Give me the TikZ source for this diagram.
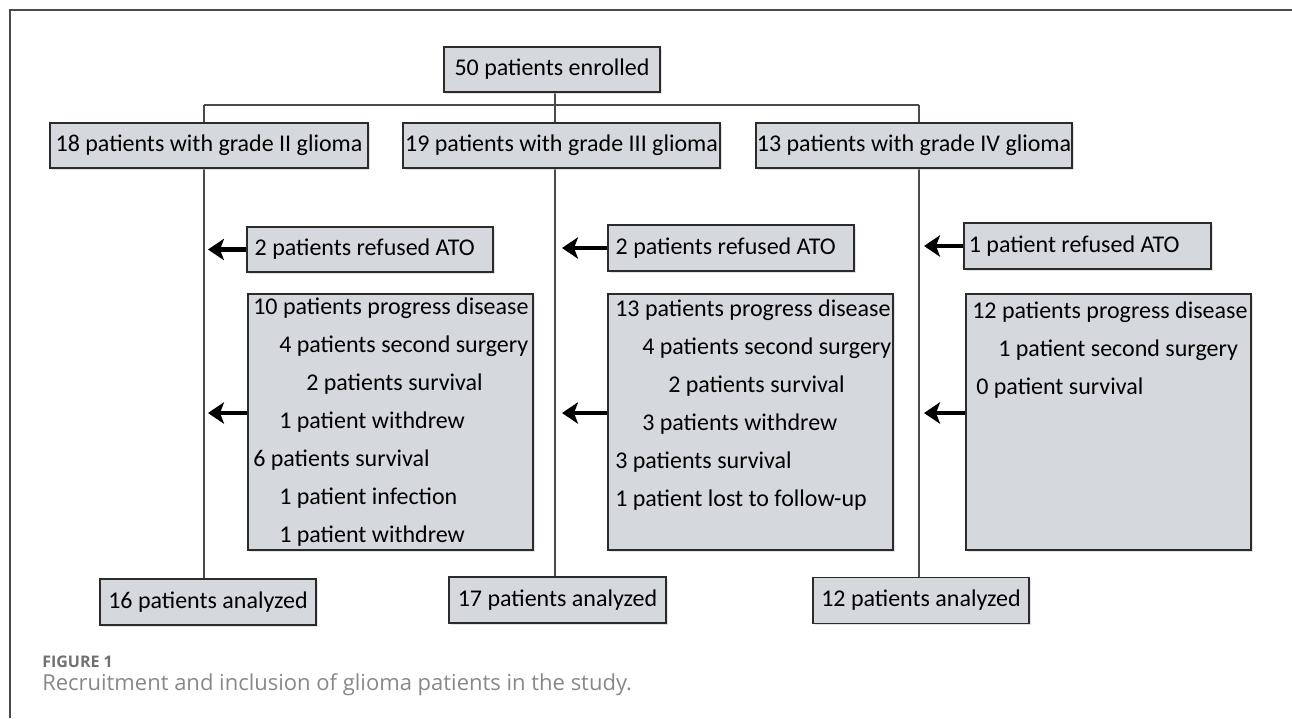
\documentclass[tikz,border=0pt]{standalone}
\usepackage{fontspec}
\setmainfont{Carlito}
\newfontfamily\capfont{Open Sans}
\usetikzlibrary{arrows.meta,shadows}
\definecolor{boxfill}{HTML}{D5D8DC}
\definecolor{boxline}{HTML}{2B2B2B}
\definecolor{connc}{HTML}{4A4A4A}
\definecolor{capgray}{HTML}{888888}
\definecolor{figgray}{HTML}{707070}
\definecolor{shadowc}{HTML}{C8C8C8}
\pgfdeclarelayer{bg}
\pgfsetlayers{bg,main}
\begin{document}
\begin{tikzpicture}[x=0.75pt,y=-0.75pt,
  box/.style={draw=boxline, line width=1.1pt, fill=boxfill, inner sep=0pt,
    font=\fontsize{18}{21}\selectfont, text=black,
    drop shadow={shadow xshift=1.2pt, shadow yshift=-1.2pt, fill=shadowc}},
  bx/.style 2 args={minimum width=#1*0.75pt, minimum height=#2*0.75pt},
  conn/.style={draw=connc, line width=0.8pt},
  outarrow/.style={draw=black, line width=3.6pt, -{Stealth[length=12pt,width=16pt,inset=3pt]}},
  txt/.style={anchor=base west, inner sep=0pt, font=\fontsize{18}{21}\selectfont, text=black}]
\useasboundingbox (0,0) rectangle (1292,718);
\draw[connc, line width=0.9pt] (10,718) -- (10,10) -- (1292,10);

% top and grade boxes
\node[box, bx={216}{45}] (top) at (552,69.5) {50 patients enrolled};
\node[box, bx={318}{45}] (g2) at (209,145.5) {18 patients with grade II glioma};
\node[box, bx={317}{45}] (g3) at (561.5,145.5) {19 patients with grade III glioma};
\node[box, bx={316}{45}] (g4) at (914,145.5) {13 patients with grade IV glioma};

% refused boxes
\node[box, bx={246}{45}] (r2) at (370,249.5) {\hspace*{-8pt}2 patients refused ATO};
\node[box, bx={246}{46}] (r3) at (731,248) {\hspace*{-8pt}2 patients refused ATO};
\node[box, bx={247}{46}] (r4) at (1087.5,246) {\hspace*{-20pt}1 patient refused ATO};

% big boxes
\node[box, bx={285}{256}] (b2) at (390.5,422) {};
\node[box, bx={285}{256}] (b3) at (750.5,422) {};
\node[box, bx={285}{256}] (b4) at (1108.5,422) {};

% analyzed boxes
\node[box, bx={216}{46}] (a2) at (208,602) {16 patients analyzed};
\node[box, bx={217}{46}] (a3) at (557.5,600) {17 patients analyzed};
\node[box, bx={216}{46}] (a4) at (921,600.5) {12 patients analyzed};

% text lines inside big boxes
\foreach \x/\y/\t [count=\i] in {
  253/308/{10 patients progress disease},
  279/346/{4 patients second surgery},
  306/384/{2 patients survival},
  279/422/{1 patient withdrew},
  253/460/{6 patients survival},
  279/498/{1 patient infection},
  279/536/{1 patient withdrew}}
  \node[txt] (b2t\i) at (\x,\y+6) {\t};
\foreach \x/\y/\t [count=\i] in {
  615/310/{13 patients progress disease},
  642/348/{4 patients second surgery},
  668/386/{2 patients survival},
  642/424/{3 patients withdrew},
  615/462/{3 patients survival},
  615/500/{1 patient lost to follow-up}}
  \node[txt] (b3t\i) at (\x,\y+6) {\t};
\foreach \x/\y/\t [count=\i] in {
  972/312/{12 patients progress disease},
  998/350/{1 patient second surgery},
  976/388/{0 patient survival}}
  \node[txt] (b4t\i) at (\x,\y+6) {\t};

% junctions and arrow tips
\coordinate (j2) at (204,105);
\coordinate (j3) at (555,105);
\coordinate (j4) at (919,105);
\coordinate (u2) at (208,249.5);
\coordinate (u3) at (562,248);
\coordinate (u4) at (924,246);
\coordinate (l2) at (208,413);
\coordinate (l3) at (562,413);
\coordinate (l4) at (924,413);

\begin{pgfonlayer}{bg}
  \draw[conn] (j2) -- (j4);
  \draw[conn] (top.south -| j3) -- (j3);
  \draw[conn] (j2) -- (j2 |- a2.north);
  \draw[conn] (j3) -- (j3 |- a3.north);
  \draw[conn] (j4) -- (j4 |- a4.north);
\end{pgfonlayer}

\draw[outarrow] (r2.west) -- (u2);
\draw[outarrow] (r3.west) -- (u3);
\draw[outarrow] (r4.west) -- (u4);
\draw[outarrow] (b2.west |- l2) -- (l2);
\draw[outarrow] (b3.west |- l3) -- (l3);
\draw[outarrow] (b4.west |- l4) -- (l4);

% caption
\node[anchor=base west, inner sep=0pt, text=figgray,
  font=\fontsize{12}{14}\selectfont\capfont\bfseries] (fig) at (42,667) {FIGURE 1};
\node[anchor=base west, inner sep=0pt, text=capgray,
  font=\fontsize{16.5}{19}\selectfont\capfont] (cap) at (42,690)
  {Recruitment and inclusion of glioma patients in the study.};
\end{tikzpicture}
\end{document}
